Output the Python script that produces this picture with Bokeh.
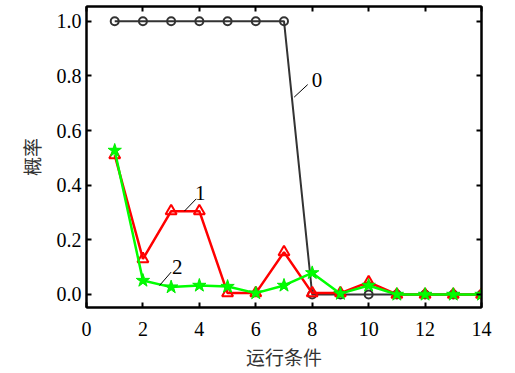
from bokeh.plotting import figure
from bokeh.models import Range1d, LinearAxis, FixedTicker, PrintfTickFormatter, Label, ColumnDataSource
from bokeh.embed import file_html
from bokeh.resources import INLINE

# data
conditions = [1, 2, 3, 4, 5, 6, 7, 8, 9, 10, 11, 12, 13, 14]
series0 = [1.0, 1.0, 1.0, 1.0, 1.0, 1.0, 1.0, 0.0, 0.0, 0.0, 0.0, 0.0, 0.0, 0.0]
series1 = [0.51, 0.13, 0.305, 0.305, 0.005, 0.005, 0.155, 0.005, 0.005, 0.045, 0.0, 0.0, 0.0, 0.0]
series2 = [0.527, 0.051, 0.027, 0.033, 0.029, 0.005, 0.033, 0.079, 0.003, 0.033, 0.0, 0.0, 0.0, 0.0]
x_ticks = [0, 2, 4, 6, 8, 10, 12, 14]
y_ticks = [0.0, 0.2, 0.4, 0.6, 0.8, 1.0]
series_names = ["0", "1", "2"]
# annotation anchor points (data coords): leader start, leader end, text
leader_x0 = [7.36, 3.47, 2.59]
leader_y0 = [0.722, 0.305, 0.033]
leader_x1 = [7.84, 3.89, 3.00]
leader_y1 = [0.768, 0.350, 0.082]
text_x = [8.17, 4.03, 3.22]
text_y = [0.783, 0.371, 0.100]

SERIF = "Liberation Serif"
CJK = "Noto Sans CJK SC"

W, H = 515, 373
BL, BR, BT, BB = 86, 34, 6, 66

p = figure(width=W, height=H, output_backend="svg", toolbar_location=None,
           x_range=Range1d(0, 14), y_range=Range1d(-0.0476, 1.0537),
           min_border_left=BL, min_border_right=BR, min_border_top=BT, min_border_bottom=BB,
           background_fill_color="white", border_fill_color="white")
p.grid.visible = False
p.outline_line_color = "black"
p.outline_line_width = 2

def style_axis(ax, ticks, labels=True):
    ax.axis_line_color = "black"
    ax.axis_line_width = 2
    ax.major_tick_in = 5
    ax.major_tick_out = 0
    ax.minor_tick_line_color = None
    ax.major_tick_line_color = "black"
    ax.major_tick_line_width = 2
    ax.major_label_text_font = SERIF
    ax.major_label_text_font_size = "20px"
    ax.major_label_text_color = "black"
    if not labels:
        ax.major_label_overrides = {t: "" for t in ticks}
        ax.major_label_standoff = 0

xa = p.xaxis[0]
xa.ticker = FixedTicker(ticks=x_ticks)
style_axis(xa, x_ticks)
xa.major_label_standoff = 14
xa.axis_label = "运行条件"
xa.axis_label_text_font = CJK
xa.axis_label_text_font_size = "19px"
xa.axis_label_text_font_style = "normal"
xa.axis_label_text_color = "#333333"
xa.axis_label_standoff = 4

ya = p.yaxis[0]
ya.ticker = FixedTicker(ticks=y_ticks)
ya.formatter = PrintfTickFormatter(format="%.1f")
style_axis(ya, y_ticks)
ya.major_label_standoff = 5
ya.axis_label = "概率"
ya.axis_label_text_font = CJK
ya.axis_label_text_font_size = "19px"
ya.axis_label_text_font_style = "normal"
ya.axis_label_text_color = "#333333"
ya.axis_label_standoff = 9

top = LinearAxis(ticker=FixedTicker(ticks=x_ticks))
style_axis(top, x_ticks, labels=False)
p.add_layout(top, "above")
right = LinearAxis(ticker=FixedTicker(ticks=y_ticks))
style_axis(right, y_ticks, labels=False)
p.add_layout(right, "right")

# series 0
p.line(conditions, series0, line_color="#333333", line_width=2)
p.scatter(conditions, series0, marker="circle", size=8, line_color="#333333", line_width=2, fill_color=None)
# series 1
p.line(conditions, series1, line_color="#ff0000", line_width=2.5)
p.scatter(conditions, series1, marker="triangle", size=11, line_color="#ff0000", line_width=2, fill_color=None)
# series 2
p.line(conditions, series2, line_color="#00ff00", line_width=2.5)
p.scatter(conditions, series2, marker="star", size=14, line_color="#00ee00", line_width=1, fill_color="#00ff00")

# annotations
src = ColumnDataSource(dict(x0=leader_x0, y0=leader_y0, x1=leader_x1, y1=leader_y1))
p.segment(x0="x0", y0="y0", x1="x1", y1="y1", source=src, line_color="black", line_width=1)
for name, tx, ty in zip(series_names, text_x, text_y):
    p.add_layout(Label(x=tx, y=ty, text=name, text_font=SERIF, text_font_size="21px",
                       text_color="black", text_align="center", text_baseline="middle"))

open("out.html", "w").write(file_html(p, INLINE))
